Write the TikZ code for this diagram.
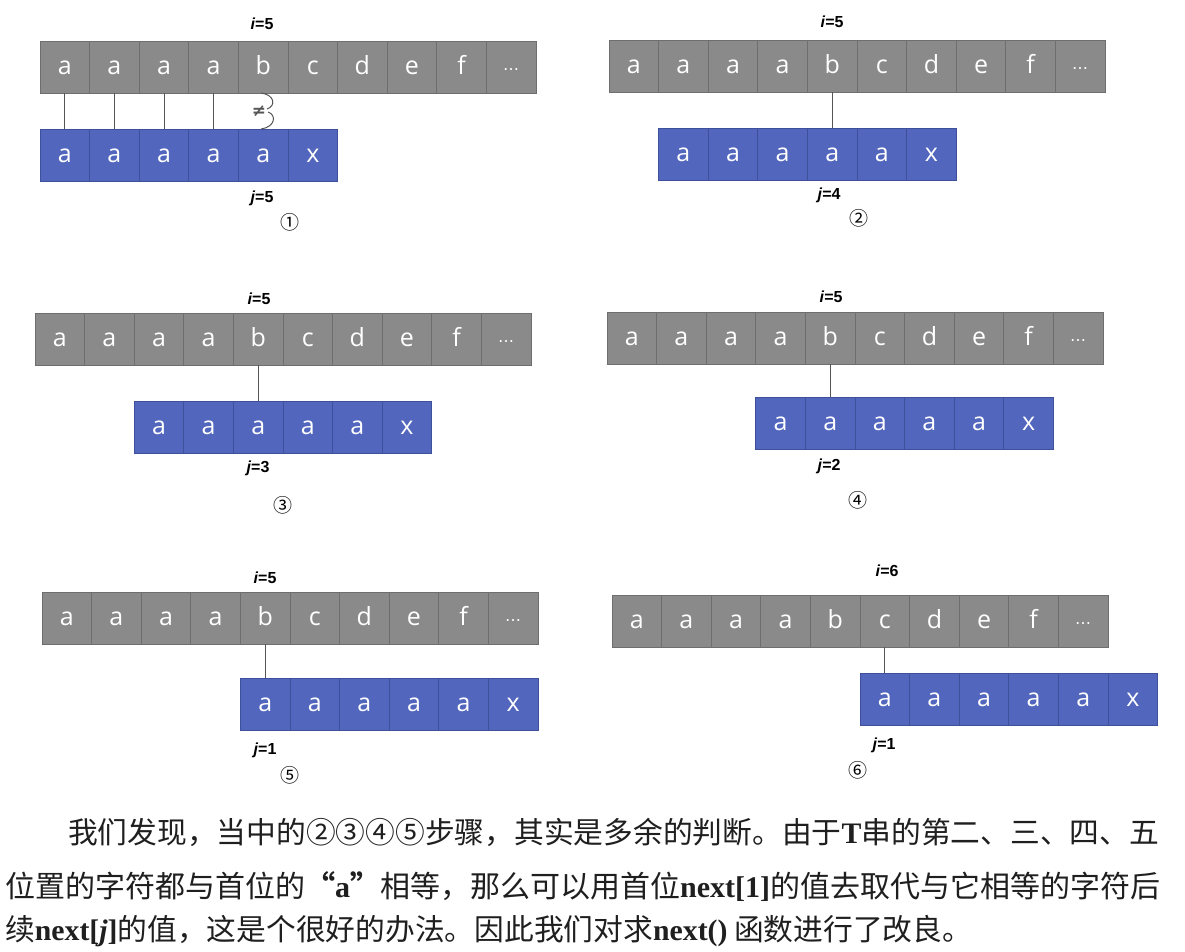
\documentclass[tikz,border=0pt]{standalone}
\usepackage{fontspec}
\setmainfont{Liberation Serif}
\newfontfamily\cellfont{Open Sans}
\newfontfamily\labfont{Liberation Sans}
\newfontfamily\symfont{DejaVu Sans}
\newfontfamily\cjk{Noto Sans CJK SC}
\newfontfamily\lserif{Liberation Serif}
\definecolor{cellgray}{HTML}{8A8A8A}
\definecolor{cellgrayedge}{HTML}{6E6E6E}
\definecolor{cellblue}{HTML}{5166BC}
\definecolor{cellblueedge}{HTML}{3F509A}
\definecolor{linkgray}{HTML}{555555}
\tikzset{
  cellbox/.style={minimum width=49.6pt, minimum height=52pt, inner sep=0pt, outer sep=0pt,
    text=white, font=\cellfont\fontsize{25}{25}\selectfont, line width=0.8pt,
    text height=16pt, text depth=2pt},
  graycell/.style={cellbox, fill=cellgray, draw=cellgrayedge},
  bluecell/.style={cellbox, fill=cellblue, draw=cellblueedge},
  idx/.style={font=\labfont\bfseries\fontsize{16}{16}\selectfont, text=black, inner sep=0pt},
  circ/.style={font=\cjk\fontsize{19}{19}\selectfont, inner sep=0pt},
  link/.style={draw=linkgray, line width=1pt},
  para/.style={inner sep=0pt, text=black!88},
}
\newcommand{\kmprows}[5]{%
  \foreach \c [count=\k from 0] in {a,a,a,a,b,c,d,e,f,{\symfont\fontsize{16}{16}\selectfont ⋯}} {
    \node[graycell] (#1t\k) at ({#2+(\k+0.5)*49.6},{#3+26}) {\c};
  }
  \foreach \c [count=\k from 0] in {a,a,a,a,a,x} {
    \node[bluecell] (#1b\k) at ({#2+(#4+\k+0.5)*49.6},{#5+26}) {\c};
  }
}
\begin{document}
\begin{tikzpicture}[x=1pt,y=-1pt]
\fill[white] (0,0) rectangle (1185,951);
\useasboundingbox (0,0) rectangle (1185,951);

% panel 1
\kmprows{p1}{40}{41}{0}{129}
\foreach \k in {0,1,2,3} { \draw[link] (p1t\k.south) -- (p1b\k.north); }
\draw[link] ([xshift=-2pt]p1t4.south) .. controls (275,95) and (276,106) .. (267,109);
\draw[link] (268,112) .. controls (277,115) and (275,127) .. ([xshift=-2pt]p1b4.north);
\node[font=\symfont\bfseries\fontsize{17}{17}\selectfont, text=linkgray, inner sep=0pt] (ne) at (259,111) {≠};
\node[idx] (p1i) at (262,24) {\textit{i}=5};
\node[idx] (p1j) at (262,198) {\textit{j}=5};
\node[circ] (p1n) at (290,222) {①};

% panel 2
\kmprows{p2}{609}{40}{1}{128}
\draw[link] (p2t4.south) -- (p2b3.north);
\node[idx] (p2i) at (832,22) {\textit{i}=5};
\node[idx] (p2j) at (829,195) {\textit{j}=4};
\node[circ] (p2n) at (859,218) {②};

% panel 3
\kmprows{p3}{35}{313}{2}{401}
\draw[link] (p3t4.south) -- (p3b2.north);
\node[idx] (p3i) at (259,299) {\textit{i}=5};
\node[idx] (p3j) at (258,468) {\textit{j}=3};
\node[circ] (p3n) at (283,505) {③};

% panel 4
\kmprows{p4}{607}{312}{3}{397}
\draw[link] (p4t4.south) -- (p4b1.north);
\node[idx] (p4i) at (831,297) {\textit{i}=5};
\node[idx] (p4j) at (829,466) {\textit{j}=2};
\node[circ] (p4n) at (858,500) {④};

% panel 5
\kmprows{p5}{42}{592}{4}{678}
\draw[link] (p5t4.south) -- (p5b0.north);
\node[idx] (p5i) at (265,578) {\textit{i}=5};
\node[idx] (p5j) at (265,750) {\textit{j}=1};
\node[circ] (p5n) at (290,775) {⑤};

% panel 6
\kmprows{p6}{612}{595}{5}{673}
\draw[link] (p6t5.south) -- (p6b0.north);
\node[idx] (p6i) at (887,571) {\textit{i}=6};
\node[idx] (p6j) at (884,745) {\textit{j}=1};
\node[circ] (p6n) at (858,770) {⑥};

% paragraph
\node[para, font=\cjk\fontsize{29.75}{36}\selectfont, anchor=west] (l1) at (68,832)
  {我们发现，当中的②③④⑤步骤，其实是多余的判断。由于{\lserif\bfseries T}串的第二、三、四、五};
\node[para, font=\cjk\fontsize{30}{36}\selectfont, anchor=west] (l2) at (5,886)
  {位置的字符都与首位的{\bfseries “}{\lserif\bfseries a}{\bfseries ”}相等，那么可以用首位{\lserif\bfseries next[1]}的值去取代与它相等的字符后};
\node[para, font=\cjk\fontsize{29.75}{36}\selectfont, anchor=west] (l3) at (5,931)
  {续{\lserif\bfseries next[\textit{j}]}的值，这是个很好的办法。因此我们对求{\lserif\bfseries next()} 函数进行了改良。};
\end{tikzpicture}
\end{document}
